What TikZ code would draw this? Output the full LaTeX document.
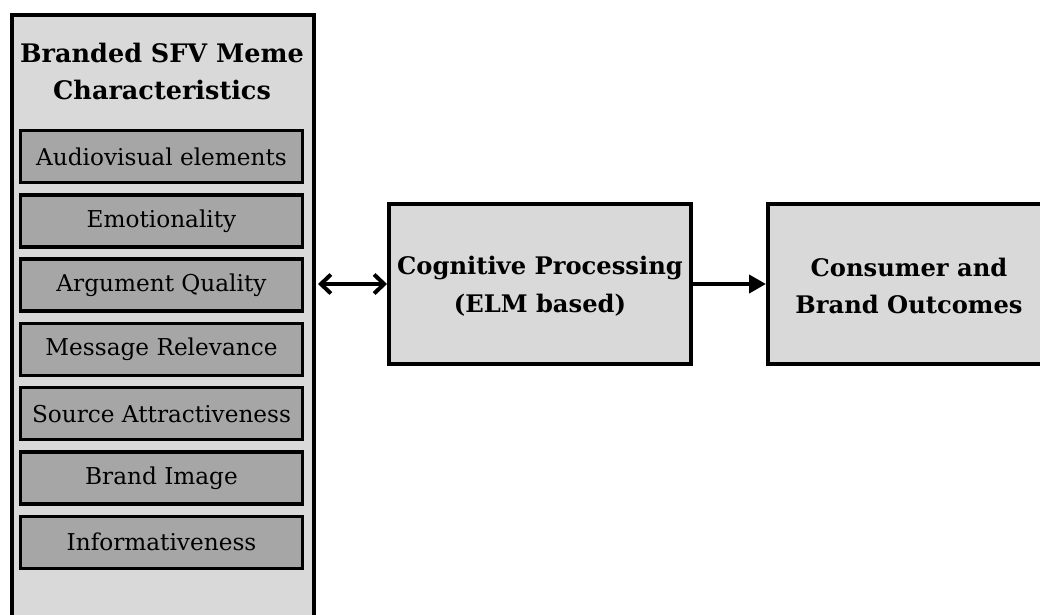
\documentclass[tikz,border=0pt]{standalone}
\usepackage{fontspec}
\setmainfont{DejaVu Serif}
\usetikzlibrary{arrows.meta,positioning}
\definecolor{panel}{HTML}{D9D9D9}
\definecolor{itemfill}{HTML}{A6A6A6}
\tikzset{
  frame/.style={draw=black, line width=4pt, fill=panel, inner sep=0pt},
  item/.style={draw=black, line width=3.5pt, fill=itemfill, inner sep=0pt,
    minimum width=282pt, minimum height=52pt,
    font=\fontsize{23.2}{27}\selectfont},
  heading/.style={align=center, font=\bfseries\fontsize{24.2}{37.5}\selectfont},
  link/.style={line width=4pt},
  barb/.tip={Straight Barb[length=10pt,width=19pt,line width=4pt]},
}
\begin{document}
\begin{tikzpicture}[x=1pt,y=-1pt]
\useasboundingbox (0,0) rectangle (1040,614);
\clip (0,0) rectangle (1040,614);
\fill[white] (0,0) rectangle (1040,614);

% characteristics panel (runs past the lower edge)
\node[frame, minimum width=302pt, minimum height=660pt, anchor=north west] (panel) at (10,13) {};
\node[heading, font=\bfseries\fontsize{25.5}{37}\selectfont] (title) at (162,71) {Branded SFV Meme\\Characteristics};

% the seven characteristics
\foreach \txt [count=\i from 0] in {Audiovisual elements, Emotionality, Argument Quality,
    Message Relevance, Source Attractiveness, Brand Image, Informativeness}{
  \node[item] (c\i) at (161.5,{156.5+64.3*\i}) {\txt};
}

% processing and outcome boxes
\node[frame, minimum width=302pt, minimum height=160pt] (cog) at (540,284) {};
\node[heading] (cogtxt) at (540,286) {Cognitive Processing\\(ELM based)};
\node[frame, minimum width=310pt, minimum height=160pt, anchor=west] (out) at (766,284) {};
\node[heading] (outtxt) at (909,286) {Consumer and\\Brand Outcomes};

% connectors
\coordinate (pe) at ([xshift=2pt]panel.east |- cog.west);
\draw[link, barb-barb] (pe) -- (cog.west);
\draw[link, -{Triangle[length=17pt,width=18pt]}] (cog.east) -- (out.west);
\end{tikzpicture}
\end{document}
